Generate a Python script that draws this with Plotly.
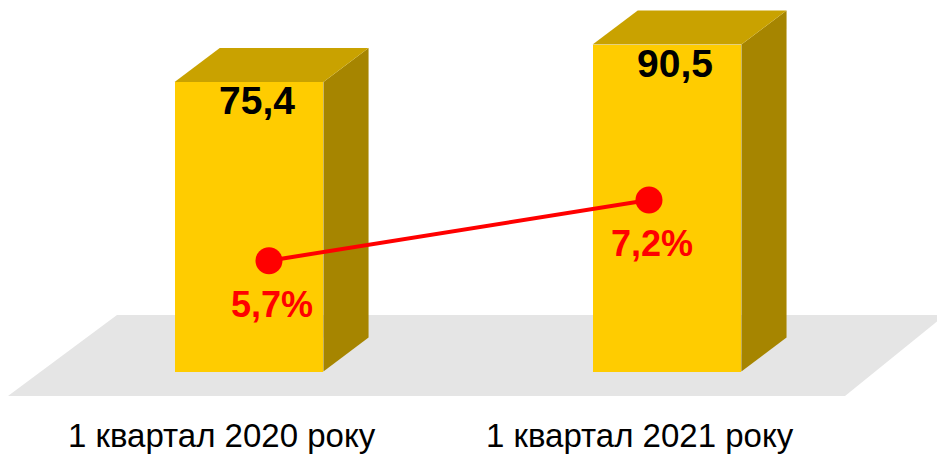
import plotly.graph_objects as go

# data
categories = ["1 квартал 2020 року", "1 квартал 2021 року"]
volumes = [75.4, 90.5]
volume_labels = ["75,4", "90,5"]
shares = [5.7, 7.2]
share_labels = ["5,7%", "7,2%"]

# the page has an 8px body margin, so the figure is a bit smaller than the window
W, H = 937, 449
FRONT = "#FFCC00"
TOP = "#C9A200"
SIDE = "#A68500"

# pseudo-3D geometry (in axis units)
bar_w = 0.356
depth_x = 0.108
depth_y = 13.7
base = -41.2

xpos = list(range(len(categories)))

fig = go.Figure()

# floor
fig.add_shape(
    type="path",
    path="M 0.0 0.1359 L 0.8933 0.1359 L 1.0 0.3163 L 0.1163 0.3163 Z",
    xref="paper", yref="paper",
    fillcolor="#E5E5E5", line=dict(width=0), layer="below",
)

# front faces
fig.add_trace(go.Bar(
    x=xpos, y=[v - base for v in volumes], base=base, width=bar_w,
    marker=dict(color=FRONT, line=dict(width=0)),
    hoverinfo="skip", showlegend=False,
))

# side and top faces
for x, v in zip(xpos, volumes):
    r = x + bar_w / 2
    l = x - bar_w / 2
    fig.add_trace(go.Scatter(
        x=[r, r + depth_x, r + depth_x, r, r],
        y=[base, base + depth_y, v + depth_y, v, base],
        fill="toself", fillcolor=SIDE, mode="none",
        hoverinfo="skip", showlegend=False,
    ))
    fig.add_trace(go.Scatter(
        x=[l, l + depth_x, r + depth_x, r, l],
        y=[v, v + depth_y, v + depth_y, v, v],
        fill="toself", fillcolor=TOP, mode="none",
        hoverinfo="skip", showlegend=False,
    ))

# share line
fig.add_trace(go.Scatter(
    x=xpos, y=shares, xaxis="x2", yaxis="y2",
    mode="lines+markers",
    line=dict(color="#FF0000", width=4),
    marker=dict(color="#FF0000", size=27),
    hoverinfo="skip", showlegend=False,
))

annotations = []
for x, v, t in zip(xpos, volumes, volume_labels):
    annotations.append(dict(
        x=x, y=v, text=t, showarrow=False, xshift=8, yshift=-19,
        xanchor="center", yanchor="middle",
        font=dict(family="Liberation Sans", size=39, color="black", weight="bold"),
    ))
for x, s, t in zip(xpos, shares, share_labels):
    annotations.append(dict(
        x=x, y=s, xref="x2", yref="y2", text=t, showarrow=False, xshift=3, yshift=-44,
        xanchor="center", yanchor="middle",
        font=dict(family="Liberation Sans", size=36, color="#FF0000", weight="bold"),
    ))
for x, c in zip(xpos, categories):
    annotations.append(dict(
        x=x, y=0.0468, yref="paper", text=c, showarrow=False, xshift=-27,
        xanchor="center", yanchor="middle",
        font=dict(family="Liberation Sans", size=33, color="black"),
    ))

fig.update_layout(
    width=W, height=H,
    margin=dict(l=0, r=0, t=0, b=0),
    paper_bgcolor="white", plot_bgcolor="white",
    bargap=0,
    xaxis=dict(range=[-0.5766, 1.6651], visible=False, fixedrange=True),
    yaxis=dict(range=[-75.63, 105.2], visible=False, fixedrange=True),
    xaxis2=dict(range=[-0.6868, 1.779], overlaying="x", visible=False),
    yaxis2=dict(range=[0.849, 11.944], overlaying="y", visible=False),
    annotations=annotations,
)

fig.write_html("out.html")
